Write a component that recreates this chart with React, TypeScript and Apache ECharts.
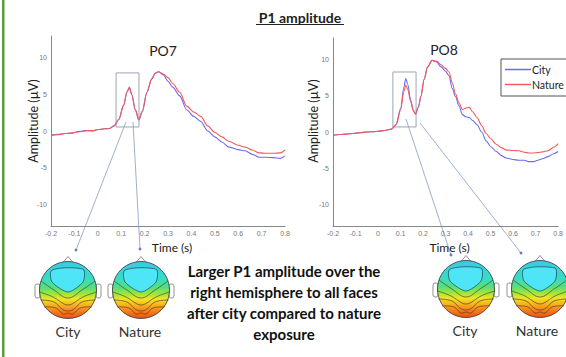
import React, { useEffect, useRef } from "react";
import * as echarts from "echarts";

// ---------- data ----------
const po7Times = [-0.2, -0.17, -0.14, -0.11, -0.08, -0.05, -0.02, 0, 0.03, 0.05, 0.07, 0.09, 0.11, 0.125, 0.135, 0.145, 0.16, 0.175, 0.19, 0.21, 0.23, 0.245, 0.26, 0.28, 0.3, 0.32, 0.35, 0.38, 0.41, 0.44, 0.47, 0.5, 0.53, 0.56, 0.6, 0.63, 0.66, 0.69, 0.72, 0.75, 0.78, 0.8];
const po7City = [-0.55, -0.45, -0.35, -0.3, -0.05, 0.05, 0.0, 0.2, 0.3, 0.35, 0.7, 1.6, 3.5, 5.4, 6.0, 5.0, 2.9, 1.5, 2.6, 5.3, 7.1, 7.9, 8.1, 7.7, 6.8, 6.0, 4.8, 2.9, 2.0, 1.3, 0.0, -0.8, -1.5, -2.2, -2.55, -2.7, -3.2, -3.6, -3.6, -3.65, -3.75, -3.4];
const po7Nature = [-0.6, -0.5, -0.35, -0.25, -0.1, 0.05, 0.05, 0.2, 0.3, 0.35, 0.7, 1.6, 3.5, 5.3, 5.9, 5.0, 3.0, 1.6, 2.7, 5.3, 7.1, 7.9, 8.1, 7.8, 7.3, 6.5, 5.3, 3.4, 2.6, 2.0, 0.7, -0.2, -0.8, -1.4, -1.95, -2.2, -2.6, -3.0, -3.05, -3.05, -3.0, -2.6];

const po8Times = [-0.2, -0.17, -0.14, -0.11, -0.08, -0.05, -0.02, 0, 0.03, 0.06, 0.08, 0.1, 0.115, 0.123, 0.132, 0.145, 0.157, 0.166, 0.18, 0.19, 0.205, 0.22, 0.24, 0.26, 0.28, 0.3, 0.315, 0.33, 0.344, 0.36, 0.375, 0.39, 0.405, 0.42, 0.44, 0.46, 0.48, 0.5, 0.525, 0.55, 0.57, 0.6, 0.625, 0.65, 0.67, 0.69, 0.71, 0.73, 0.755, 0.78, 0.8];
const po8City = [-0.45, -0.35, -0.3, -0.2, -0.1, 0.0, 0.05, 0.1, 0.2, 0.4, 1.0, 3.2, 6.2, 7.4, 6.6, 4.4, 3.0, 2.5, 3.5, 4.9, 7.3, 9.0, 9.9, 9.7, 9.0, 8.4, 7.8, 6.0, 4.9, 3.6, 2.4, 2.1, 2.0, 1.6, 1.0, 0.0, -1.2, -2.0, -2.7, -3.3, -3.6, -3.8, -3.9, -3.9, -4.1, -4.1, -3.9, -3.7, -3.4, -3.0, -2.7];
const po8Nature = [-0.45, -0.35, -0.3, -0.2, -0.1, 0.0, 0.05, 0.1, 0.2, 0.4, 1.0, 3.0, 5.6, 6.5, 5.9, 4.2, 2.9, 2.5, 3.5, 4.9, 7.3, 9.0, 9.9, 9.8, 9.3, 8.8, 8.3, 6.8, 5.3, 4.0, 3.1, 3.3, 3.4, 2.8, 2.0, 0.9, -0.2, -0.9, -1.7, -2.2, -2.5, -2.55, -2.6, -2.8, -2.9, -2.9, -2.85, -2.75, -2.6, -2.1, -1.6];

// P1 window boxes: [tStart, tEnd, vLow, vHigh]
const po7Box = [0.078, 0.176, 0.55, 7.95];
const po8Box = [0.066, 0.169, 0.7, 8.3];

const seriesNames = ["City", "Nature"];
const channelNames = ["PO7", "PO8"];
const yAxisTitle = "Amplitude (µV)";
const headLabels = ["City", "Nature", "City", "Nature"];
const summaryText = ["Larger P1 amplitude over the", "right hemisphere to all faces", "after city compared to nature", "exposure"];

const BLUE = "#6b6bf0";
const RED = "#f05c5c";
const TXT = "Lato, 'Open Sans', sans-serif";

function zip(t: number[], v: number[]) {
  return t.map((x, i) => [x, v[i]]);
}

function head(cx: number, cy: number) {
  const r = 28.5;
  const children: any[] = [];
  children.push({ type: "rect", shape: { x: -33, y: -6, width: 5, height: 14, r: 2 }, style: { fill: "#fff", stroke: "#777", lineWidth: 0.8 } });
  children.push({ type: "rect", shape: { x: 28, y: -6, width: 5, height: 14, r: 2 }, style: { fill: "#fff", stroke: "#777", lineWidth: 0.8 } });
  children.push({ type: "polygon", shape: { points: [[-5, -27.5], [0, -33.5], [5, -27.5]] }, style: { fill: "#fff", stroke: "#777", lineWidth: 0.8 } });
  children.push({
    type: "circle",
    shape: { cx: 0, cy: 0, r },
    style: {
      fill: {
        type: "linear", x: 0, y: 0, x2: 0, y2: 1,
        colorStops: [
          { offset: 0, color: "#3cc8e4" },
          { offset: 0.3, color: "#36dcc8" },
          { offset: 0.46, color: "#58de7a" },
          { offset: 0.58, color: "#a8e634" },
          { offset: 0.66, color: "#f2e424" },
          { offset: 0.76, color: "#f8b41c" },
          { offset: 0.87, color: "#f6801a" },
          { offset: 1, color: "#f04e12" },
        ],
      },
      stroke: "#333",
      lineWidth: 0.8,
    },
  });
  children.push({
    type: "polygon",
    shape: { points: [[-17, -19], [-6, -22], [8, -22], [16, -20], [15, -8], [0, 2], [-16, -8]], smooth: 0.25 },
    style: { fill: "#4ee6f6", stroke: "#1d4450", lineWidth: 0.7 },
  });
  const contours = [
    [[-27, -9], [-14, 0], [0, 8], [14, 0], [27, -9]],
    [[-28.5, 2], [-15, 7], [-4, 14], [0, 15], [4, 14], [15, 7], [28.5, 2]],
    [[-27.5, 10], [-14, 12], [-6, 19], [0, 21], [6, 19], [14, 12], [27.5, 10]],
    [[-24, 17], [-12, 18], [-5, 24], [0, 23], [5, 24], [12, 18], [24, 17]],
  ];
  contours.forEach((pts) => {
    children.push({ type: "polyline", shape: { points: pts, smooth: 0.4 }, style: { stroke: "#333", lineWidth: 0.6, fill: null } });
  });
  for (let gx = -20; gx <= 20; gx += 8) {
    for (let gy = -22; gy <= 22; gy += 8) {
      if (gx * gx + gy * gy < 24 * 24) {
        children.push({ type: "circle", shape: { cx: gx, cy: gy, r: 0.5 }, style: { fill: "#222" } });
      }
    }
  }
  return { type: "group", x: cx, y: cy, children };
}

function txt(x: number, y: number, text: string, font: string, fill = "#222", extra: any = {}, rotation = 0) {
  return {
    type: "text",
    x,
    y,
    rotation,
    style: { text, font, fill, align: "center", verticalAlign: "middle", textAlign: "center", textVerticalAlign: "middle", ...extra },
  };
}

function arrow(x1: number, y1: number, x2: number, y2: number) {
  return [
    { type: "line", shape: { x1, y1, x2, y2 }, style: { stroke: "#93a7cc", lineWidth: 0.9 } },
    { type: "circle", shape: { cx: x2, cy: y2, r: 1.4 }, style: { fill: "#5d80c0" } },
  ];
}

function boxArea(b: number[]) {
  return {
    silent: true,
    itemStyle: { color: "rgba(0,0,0,0)", borderColor: "#9aa6b4", borderWidth: 1 },
    data: [[{ xAxis: b[0], yAxis: b[3] }, { xAxis: b[1], yAxis: b[2] }]],
  };
}

export default function App() {
  const ref = useRef<HTMLDivElement>(null);
  useEffect(() => {
    document.body.style.margin = "0";
    const chart = echarts.init(ref.current!, null, { renderer: "svg" });
    const xAxisBase = (gi: number) => ({
      type: "value",
      gridIndex: gi,
      min: -0.2,
      max: 0.8,
      interval: 0.1,
      name: "Time (s)",
      nameLocation: "middle",
      nameGap: 9,
      nameTextStyle: { fontSize: 12, fontFamily: TXT, color: "#222", padding: [0, 0, 0, 8] },
      axisLine: { onZero: false, lineStyle: { color: "#888", width: 1 } },
      axisTick: { show: false },
      splitLine: { show: false },
      axisLabel: { fontSize: 7, color: "#777", margin: 4, fontFamily: "'Liberation Sans', Arial", formatter: (v: number) => String(Math.round(v * 10) / 10) },
    });
    const yAxisBase = (gi: number) => ({
      type: "value",
      gridIndex: gi,
      min: -13,
      max: 13,
      splitNumber: 5,
      axisLine: { show: true, onZero: false, lineStyle: { color: "#888", width: 1 } },
      axisTick: { show: false },
      splitLine: { show: false },
      axisLabel: { fontSize: 7, color: "#777", margin: 4, showMinLabel: false, showMaxLabel: false, fontFamily: "'Liberation Sans', Arial" },
    });
    const lineSeries = (name: string, gi: number, t: number[], v: number[], color: string, box?: number[]) => ({
      type: "line",
      name,
      xAxisIndex: gi,
      yAxisIndex: gi,
      data: zip(t, v),
      showSymbol: false,
      smooth: 0.3,
      smoothMonotone: "x",
      lineStyle: { color, width: 1.1 },
      itemStyle: { color },
      ...(box ? { markArea: boxArea(box) } : {}),
    });
    const graphics: any[] = [
      { type: "rect", shape: { x: 2, y: 0, width: 2.5, height: 357 }, style: { fill: "#5c9a3e" } },
      txt(300, 17, "P1 amplitude", `bold 14px ${TXT}`),
      { type: "line", shape: { x1: 256, y1: 24.5, x2: 344, y2: 24.5 }, style: { stroke: "#222", lineWidth: 1 } },
      txt(163, 50, channelNames[0], `14px ${TXT}`),
      txt(444, 49, channelNames[1], `14px ${TXT}`),
      txt(33, 121, yAxisTitle, `12.5px ${TXT}`, "#222", {}, Math.PI / 2),
      txt(313, 121, yAxisTitle, `12.5px ${TXT}`, "#222", {}, Math.PI / 2),
      ...arrow(126, 122, 76, 250),
      ...arrow(133, 122, 140, 249),
      ...arrow(406, 119, 451, 255),
      ...arrow(420, 123, 521, 253),
      head(68, 290),
      head(141, 290),
      head(466, 289),
      head(540, 289),
      txt(68, 331, headLabels[0], `14px ${TXT}`, "#333"),
      txt(140, 331, headLabels[1], `14px ${TXT}`, "#333"),
      txt(465, 330, headLabels[2], `14px ${TXT}`, "#333"),
      txt(537, 330, headLabels[3], `14px ${TXT}`, "#333"),
      txt(284, 302, summaryText.join("\n"), `bold 15px ${TXT}`, "#111", { lineHeight: 21 }),
    ];
    chart.setOption({
      animation: false,
      backgroundColor: "#ffffff",
      legend: {
        data: seriesNames,
        left: 501,
        top: 59,
        orient: "vertical",
        itemGap: 4,
        itemWidth: 26,
        itemHeight: 1.5,
        icon: "rect",
        padding: [5, 10, 6, 4],
        borderColor: "#555",
        borderWidth: 1,
        textStyle: { fontSize: 10.5, fontFamily: TXT, color: "#222", padding: [0, 0, 0, -4] },
      },
      grid: [
        { left: 51, top: 36, width: 234, height: 190 },
        { left: 333, top: 38, width: 234, height: 188 },
      ],
      xAxis: [xAxisBase(0), xAxisBase(1)],
      yAxis: [yAxisBase(0), yAxisBase(1)],
      series: [
        lineSeries(seriesNames[0], 0, po7Times, po7City, BLUE, po7Box),
        lineSeries(seriesNames[1], 0, po7Times, po7Nature, RED),
        lineSeries(seriesNames[0], 1, po8Times, po8City, BLUE, po8Box),
        lineSeries(seriesNames[1], 1, po8Times, po8Nature, RED),
      ],
      graphic: { elements: graphics },
    });
    return () => chart.dispose();
  }, []);
  return <div ref={ref} style={{ width: 566, height: 357, position: "fixed", left: 0, top: 0 }} />;
}
